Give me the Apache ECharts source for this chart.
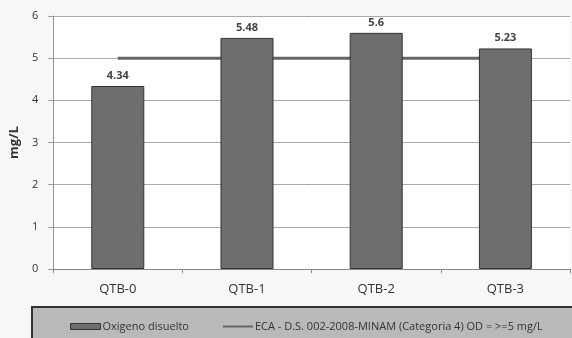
<!DOCTYPE html>
<html>
<head>
<meta charset="utf-8">
<script src="https://cdn.jsdelivr.net/npm/echarts@6/dist/echarts.min.js"></script>
<style>
  html, body { margin: 0; padding: 0; background: #f7f7f7; }
  #chart { width: 572px; height: 338px; }
</style>
</head>
<body>
<div id="chart"></div>
<script>
// Stations and measured dissolved oxygen (mg/L)
const categories = ['QTB-0', 'QTB-1', 'QTB-2', 'QTB-3'];
const oxygenValues = [4.34, 5.48, 5.6, 5.23];
// Environmental quality standard (ECA) threshold per station
const ecaValues = [5, 5, 5, 5];
const yTicks = [0, 1, 2, 3, 4, 5, 6];

const barName = 'Oxigeno disuelto';
const lineName = 'ECA - D.S. 002-2008-MINAM (Categoria 4) OD = >=5 mg/L';

const chart = echarts.init(document.getElementById('chart'), null, { renderer: 'canvas' });

chart.setOption({
  backgroundColor: '#f7f7f7',
  animation: false,
  textStyle: { fontFamily: '"Open Sans", "DejaVu Sans", sans-serif' },
  graphic: [{
    type: 'rect',
    z: 0,
    shape: { x: 32, y: 307, width: 560, height: 40 },
    style: { fill: '#b9b9b9', stroke: '#333', lineWidth: 2 }
  }],
  grid: { left: 52, right: 2, top: 16, bottom: 69, backgroundColor: '#ffffff', show: true, borderWidth: 0 },
  legend: {
    left: 65,
    top: 316,
    itemWidth: 30,
    itemHeight: 6,
    itemGap: 34,
    z: 5,
    textStyle: { fontSize: 11, color: '#333', padding: [0, 0, 0, -3] },
    data: [
      { name: barName, icon: 'rect', itemStyle: { color: '#6e6e6e', borderColor: '#333', borderWidth: 1 } },
      { name: lineName, icon: 'path://M0,4 L30,4 L30,6 L0,6 Z', itemStyle: { color: '#666' } }
    ]
  },
  xAxis: {
    type: 'category',
    data: categories,
    boundaryGap: true,
    axisLine: { lineStyle: { color: '#888', width: 1 } },
    axisTick: { show: true, length: 4, lineStyle: { color: '#888' } },
    axisLabel: { color: '#333', fontSize: 13, margin: 14 }
  },
  yAxis: {
    type: 'value',
    min: yTicks[0],
    max: yTicks[yTicks.length - 1],
    interval: 1,
    name: 'mg/L',
    nameLocation: 'middle',
    nameGap: 31,
    nameRotate: 90,
    nameTextStyle: { fontSize: 13, fontWeight: 'bold', color: '#333' },
    axisLine: { show: true, lineStyle: { color: '#999', width: 1 } },
    axisTick: { show: true, length: 5, lineStyle: { color: '#999' } },
    axisLabel: { color: '#333', fontSize: 11, margin: 15 },
    splitLine: { lineStyle: { color: '#aaa', width: 1 } }
  },
  series: [
    {
      name: lineName,
      type: 'line',
      data: ecaValues,
      symbol: 'none',
      z: 1,
      lineStyle: { color: '#666', width: 3 }
    },
    {
      name: barName,
      type: 'bar',
      data: oxygenValues,
      barWidth: 53,
      z: 3,
      itemStyle: { color: '#6e6e6e', borderColor: '#333', borderWidth: 1 },
      label: {
        show: true,
        position: 'top',
        distance: 5,
        fontSize: 11,
        fontWeight: 'bold',
        color: '#444'
      }
    }
  ]
});
</script>
</body>
</html>
